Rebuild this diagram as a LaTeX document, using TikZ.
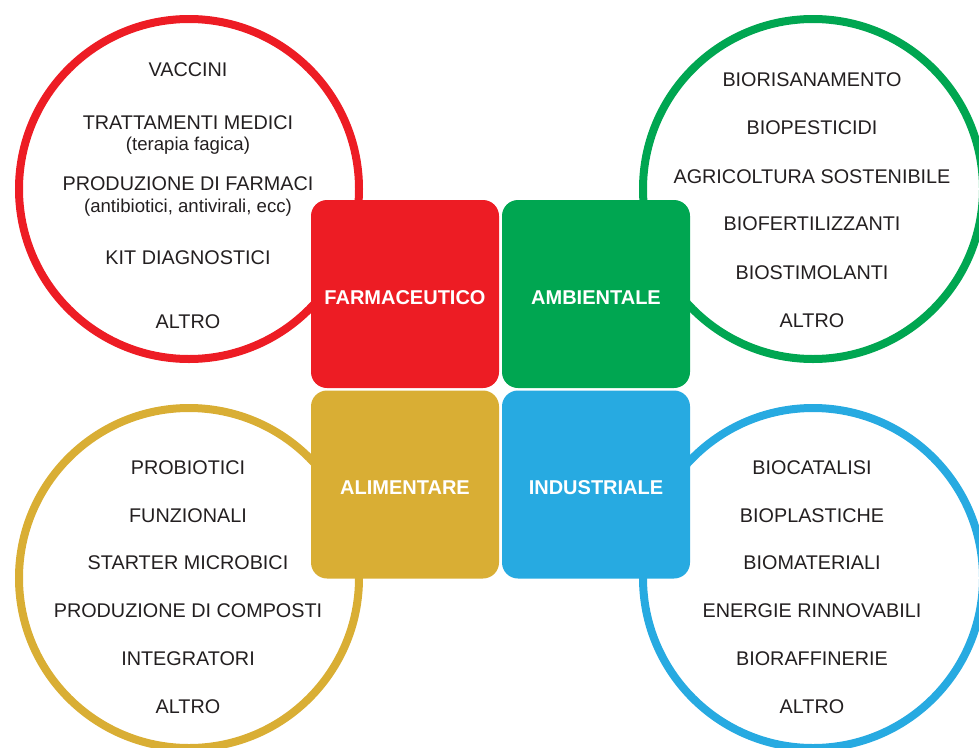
\documentclass[tikz,border=0pt]{standalone}
\usepackage{fontspec}
\setmainfont{Liberation Sans}
\begin{document}
\begin{tikzpicture}[x=1pt,y=-1pt,
  ring/.style={line width=8pt},
  sector/.style={rounded corners=16pt, minimum width=188pt, minimum height=188pt,
    inner sep=0pt, text height=20pt, text depth=0pt, text=white,
    font=\fontsize{20}{22}\selectfont\bfseries},
  item/.style={text=ink, inner sep=0pt, font=\fontsize{19.8}{22}\selectfont},
  note/.style={text=ink, inner sep=0pt, font=\fontsize{18.6}{21}\selectfont}]
\definecolor{cred}{HTML}{ED1C24}
\definecolor{cgreen}{HTML}{00A651}
\definecolor{cyellow}{HTML}{D9AE34}
\definecolor{cblue}{HTML}{27AAE1}
\definecolor{ink}{HTML}{231F20}
\useasboundingbox (0,0) rectangle (979,747);

% outer rings
\draw[ring, cred]    (189,189) circle (170pt);
\draw[ring, cgreen]  (813,189) circle (170pt);
\draw[ring, cyellow] (189,578) circle (170pt);
\draw[ring, cblue]   (813,578) circle (170pt);

% central sectors
\node[sector, fill=cred]    (farm) at (405,294)   {FARMACEUTICO};
\node[sector, fill=cgreen]  (amb)  at (596,294)   {AMBIENTALE};
\node[sector, fill=cyellow] (alim) at (405,484.5) {ALIMENTARE};
\node[sector, fill=cblue]   (ind)  at (596,484.5) {INDUSTRIALE};

% pharmaceutical
\node[item] (f1)  at (188,70)  {VACCINI};
\node[item] (f2)  at (188,123) {TRATTAMENTI MEDICI};
\node[note] (f2n) at (188,146) {(terapia fagica)};
\node[item] (f3)  at (188,184) {PRODUZIONE DI FARMACI};
\node[note] (f3n) at (188,208) {(antibiotici, antivirali, ecc)};
\node[item] (f4)  at (188,258) {KIT DIAGNOSTICI};
\node[item] (f5)  at (188,322) {ALTRO};

% environmental
\node[item] (a1) at (812,80)  {BIORISANAMENTO};
\node[item] (a2) at (812,128) {BIOPESTICIDI};
\node[item] (a3) at (812,177) {AGRICOLTURA SOSTENIBILE};
\node[item] (a4) at (812,224) {BIOFERTILIZZANTI};
\node[item] (a5) at (812,273) {BIOSTIMOLANTI};
\node[item] (a6) at (812,321) {ALTRO};

% food
\node[item] (l1) at (188,468) {PROBIOTICI};
\node[item] (l2) at (188,516) {FUNZIONALI};
\node[item] (l3) at (188,563) {STARTER MICROBICI};
\node[item] (l4) at (188,611) {PRODUZIONE DI COMPOSTI};
\node[item] (l5) at (188,659) {INTEGRATORI};
\node[item] (l6) at (188,707) {ALTRO};

% industrial
\node[item] (i1) at (812,468) {BIOCATALISI};
\node[item] (i2) at (812,516) {BIOPLASTICHE};
\node[item] (i3) at (812,563) {BIOMATERIALI};
\node[item] (i4) at (812,611) {ENERGIE RINNOVABILI};
\node[item] (i5) at (812,659) {BIORAFFINERIE};
\node[item] (i6) at (812,707) {ALTRO};
\end{tikzpicture}
\end{document}
